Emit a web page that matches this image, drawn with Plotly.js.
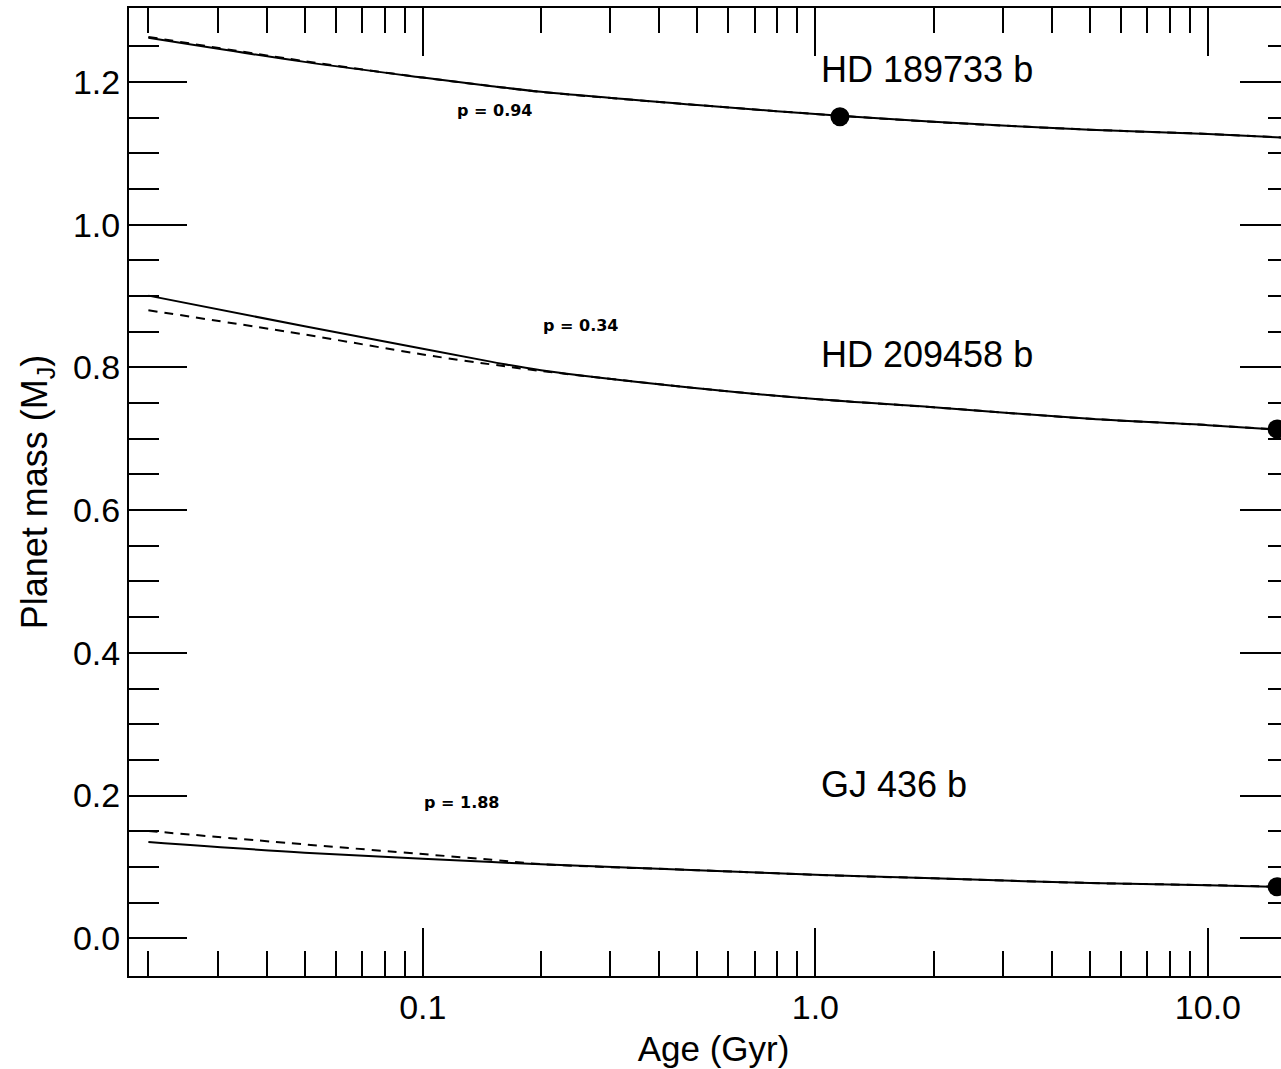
<!DOCTYPE html>
<html>
<head>
<meta charset="utf-8">
<script src="https://cdn.plot.ly/plotly-3.0.1.min.js"></script>
<style>
html,body{margin:0;padding:0;overflow:hidden;background:#fff;}
#chart{width:1300px;height:1069px;}
</style>
</head>
<body>
<div id="chart"></div>
<script>
// Age grid (Gyr)
const ages = [0.02, 0.05, 0.1, 0.15, 0.2, 0.5, 1, 2, 5, 10, 17];

// HD 189733 b
const hd189_solid  = [1.2617, 1.228, 1.206, 1.194, 1.186, 1.1675, 1.155, 1.144, 1.133, 1.127, 1.121];
const hd189_dashed = [1.2630, 1.229, 1.206, 1.194, 1.186, 1.1675, 1.155, 1.144, 1.133, 1.127, 1.121];
// HD 209458 b
const hd209_solid  = [0.9005, 0.8575, 0.826, 0.8077, 0.796, 0.7707, 0.7556, 0.744, 0.728, 0.719, 0.711];
const hd209_dashed = [0.8800, 0.8460, 0.818, 0.8040, 0.795, 0.7707, 0.7556, 0.744, 0.728, 0.719, 0.711];
// GJ 436 b
const gj436_solid  = [0.1350, 0.1200, 0.1115, 0.1068, 0.1037, 0.0955, 0.0890, 0.0840, 0.0775, 0.0745, 0.0715];
const gj436_dashed = [0.1504, 0.1316, 0.1180, 0.1100, 0.1040, 0.0955, 0.0890, 0.0840, 0.0775, 0.0745, 0.0715];

// Observed planets (age, mass)
const obsAge  = [1.155, 15, 15];
const obsMass = [1.151, 0.7136, 0.0723];

// Labels
const planetNames = ["HD 189733 b", "HD 209458 b", "GJ 436 b"];
const pLabels = ["p = 0.94", "p = 0.34", "p = 1.88"];

// Ticks
const xMajor = [0.1, 1, 10];
const xMajorText = ["0.1", "1.0", "10.0"];
const xMinor = [0.02,0.03,0.04,0.05,0.06,0.07,0.08,0.09,0.2,0.3,0.4,0.5,0.6,0.7,0.8,0.9,2,3,4,5,6,7,8,9];
const yMajor = [0.0, 0.2, 0.4, 0.6, 0.8, 1.0, 1.2];
const yMajorText = ["0.0", "0.2", "0.4", "0.6", "0.8", "1.0", "1.2"];
const yMinor = [0.05,0.1,0.15,0.25,0.3,0.35,0.45,0.5,0.55,0.65,0.7,0.75,0.85,0.9,0.95,1.05,1.1,1.15,1.25];

const lineStyle = {color: 'black', width: 2, shape: 'spline', smoothing: 1};
const dashStyle = {color: 'black', width: 2, dash: '9px,7px', shape: 'spline', smoothing: 1};

function solid(y){ return {x: ages, y: y, mode: 'lines', line: lineStyle, showlegend: false, hoverinfo: 'skip'}; }
function dashed(y){ return {x: ages, y: y, mode: 'lines', line: dashStyle, showlegend: false, hoverinfo: 'skip'}; }

const traces = [
  dashed(hd189_dashed), solid(hd189_solid),
  dashed(hd209_dashed), solid(hd209_solid),
  dashed(gj436_dashed), solid(gj436_solid),
  {x: obsAge, y: obsMass, mode: 'markers', marker: {color: 'black', size: 19}, showlegend: false, cliponaxis: false}
];

const font = {family: '"Liberation Sans", Arial, Helvetica, sans-serif', color: 'black'};

const bigLabelPos = [[1.02, 1.217], [1.02, 0.818], [1.02, 0.215]];
const pLabelPos = [[-0.8166, 1.1597], [-0.5975, 0.8584], [-0.9006, 0.1897]];

const annotations = [];
planetNames.forEach((t, i) => annotations.push({
  text: t, x: Math.log10(bigLabelPos[i][0]), y: bigLabelPos[i][1], xref: 'x', yref: 'y',
  xanchor: 'left', yanchor: 'middle', showarrow: false,
  font: Object.assign({}, font, {size: 36})
}));
pLabels.forEach((t, i) => annotations.push({
  text: t, x: pLabelPos[i][0], y: pLabelPos[i][1], xref: 'x', yref: 'y',
  xanchor: 'center', yanchor: 'middle', showarrow: false,
  font: {family: '"DejaVu Sans", sans-serif', size: 16, color: 'black', weight: 'bold'}
}));

const layout = {
  width: 1300, height: 1069,
  margin: {l: 129, r: 2, t: 8, b: 93},
  paper_bgcolor: 'white', plot_bgcolor: 'white',
  font: font,
  xaxis: {
    type: 'log', range: [Math.log10(0.01785), Math.log10(16.96)],
    showgrid: false, zeroline: false,
    showline: true, linecolor: 'black', linewidth: 2, mirror: 'allticks',
    ticks: 'inside', ticklen: 48, tickwidth: 2, tickcolor: 'black',
    tickmode: 'array', tickvals: xMajor, ticktext: xMajorText,
    tickfont: Object.assign({}, font, {size: 34}),
    minor: {tickmode: 'array', tickvals: xMinor, ticks: 'inside', ticklen: 25, tickwidth: 2, tickcolor: 'black', showgrid: false},
    title: {text: 'Age (Gyr)', font: Object.assign({}, font, {size: 35}), standoff: 12}
  },
  yaxis: {
    range: [-0.0528, 1.3035],
    showgrid: false, zeroline: false,
    showline: true, linecolor: 'black', linewidth: 2, mirror: 'allticks',
    ticks: 'inside', ticklen: 58, tickwidth: 2, tickcolor: 'black',
    tickmode: 'array', tickvals: yMajor, ticktext: yMajorText,
    tickfont: Object.assign({}, font, {size: 34}),
    minor: {tickmode: 'array', tickvals: yMinor, ticks: 'inside', ticklen: 30, tickwidth: 2, tickcolor: 'black', showgrid: false},
    title: {text: 'Planet mass (M<sub>J</sub>)', font: Object.assign({}, font, {size: 36}), standoff: 14}
  },
  annotations: annotations,
  showlegend: false
};

Plotly.newPlot('chart', traces, layout, {displayModeBar: false, staticPlot: true});
</script>
</body>
</html>
